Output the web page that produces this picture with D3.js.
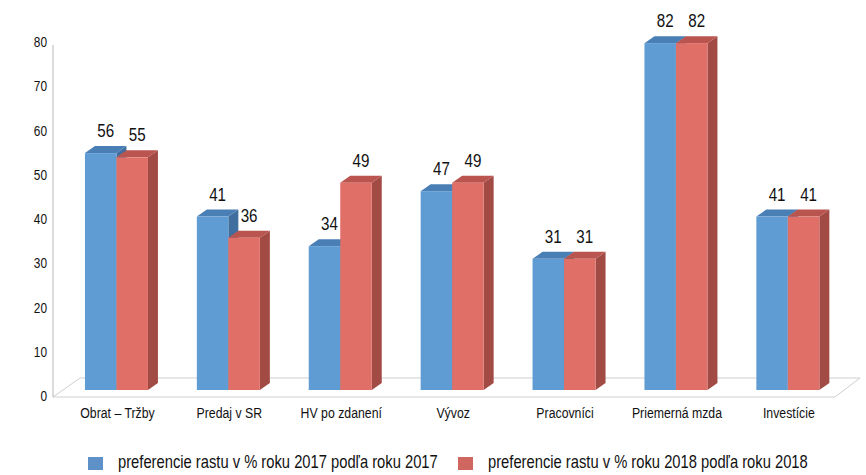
<!DOCTYPE html>
<html>
<head>
<meta charset="utf-8">
<script src="https://cdn.jsdelivr.net/npm/d3@7"></script>
<style>
  body { margin: 0; background: #fff; }
  text { font-family: "Liberation Sans", Arial, sans-serif; fill: #111; }
</style>
</head>
<body>
<div id="chart"></div>
<script>
// data
var categories = ["Obrat \u2013 Tr\u017eby", "Predaj v SR", "HV po zdanen\u00ed", "V\u00fdvoz", "Pracovn\u00edci", "Priemern\u00e1 mzda", "Invest\u00edcie"];
var values2017 = [56, 41, 34, 47, 31, 82, 41];
var values2018 = [55, 36, 49, 49, 31, 82, 41];
var seriesNames = ["preferencie rastu v % roku 2017 pod\u013ea roku 2017", "preferencie rastu v % roku 2018 pod\u013ea roku 2018"];
var yTicks = [0, 10, 20, 30, 40, 50, 60, 70, 80];

var width = 866, height = 475;
var depth = {dx: 10, dy: -7};
var squeeze = 0.82;   // no condensed font here, so narrow the text a bit

var svg = d3.select("#chart").append("svg")
    .attr("width", width)
    .attr("height", height);

// colours: front, top, side
var palette = [
    {front: "#5e9cd3", top: "#4a7fb6", side: "#3f6e9f", legend: "#5f91c9"},
    {front: "#e06f67", top: "#b9544e", side: "#a24b45", legend: "#cf6660"}
];

var data = categories.map(function (c, i) {
    return {cat: c, vals: [values2017[i], values2018[i]]};
});

// places a condensed text at x,y
function narrowText(sel, x, y, size, anchor, str) {
    return sel.append("text")
        .attr("transform", "translate(" + x + "," + y + ") scale(" + squeeze + ",1)")
        .attr("text-anchor", anchor)
        .style("font-size", size + "px")
        .text(str);
}

// x scales
var x0 = d3.scaleBand()
    .domain(categories)
    .range([60.5, 843.8])
    .paddingInner(0.437)
    .paddingOuter(0.2185);

var x1 = d3.scaleBand()
    .domain([0, 1])
    .range([0, x0.bandwidth()]);

// front plane of the bars and the back wall for the axis
var yBar = d3.scaleLinear().domain([0, 80]).range([390, 390 - 80 * 4.23]);
var yAxis = d3.scaleLinear().domain([0, 80]).range([396, 42]);

// floor
svg.append("path")
    .attr("d", "M53,397 L835,397 L860,378 L80,378 Z")
    .attr("stroke", "#cfcfcf")
    .attr("fill", "none");

// axis
var axisG = svg.append("g").attr("transform", "translate(53,0)");
axisG.call(d3.axisLeft(yAxis).tickValues(yTicks).tickSize(0).tickPadding(6));
axisG.select(".domain").attr("stroke", "#b8b8b8").attr("d", "M0,45V397");
axisG.selectAll("text")
    .attr("x", -6 / squeeze)
    .attr("transform", "scale(" + squeeze + ",1)")
    .style("font-size", "14.5px")
    .style("font-family", "'Liberation Sans', Arial, sans-serif")
    .attr("fill", "#111");

// bars
var groups = svg.selectAll(".cat")
    .data(data)
    .enter().append("g")
    .attr("class", "cat")
    .attr("transform", function (d) { return "translate(" + x0(d.cat) + ",0)"; });

groups.each(function (d) {
    var g = d3.select(this);
    d.vals.forEach(function (v, s) {
        var x = x1(s), w = x1.bandwidth();
        var yt = yBar(v), yb = yBar(0);
        var c = palette[s];
        // side face
        g.append("path")
            .attr("d", "M" + (x + w) + "," + yt + " L" + (x + w + depth.dx) + "," + (yt + depth.dy) +
                " L" + (x + w + depth.dx) + "," + (yb + depth.dy) + " L" + (x + w) + "," + yb + "Z")
            .attr("fill", c.side);
        // top face
        g.append("path")
            .attr("d", "M" + x + "," + yt + " L" + (x + depth.dx) + "," + (yt + depth.dy) +
                " L" + (x + w + depth.dx) + "," + (yt + depth.dy) + " L" + (x + w) + "," + yt + "Z")
            .attr("fill", c.top);
        // front face
        g.append("rect")
            .attr("x", x)
            .attr("y", yt)
            .attr("width", w)
            .attr("height", yb - yt)
            .attr("fill", c.front);
        // value label
        narrowText(g, x + w / 2 + 5, yt - 16, 18.5, "middle", v);
    });
});

// category labels
categories.forEach(function (c) {
    narrowText(svg, x0(c) + x0.bandwidth() / 2 + 1, 418, 15, "middle", c);
});

// legend
var legendX = [88, 458];
seriesNames.forEach(function (name, i) {
    svg.append("rect")
        .attr("x", legendX[i])
        .attr("y", 457)
        .attr("width", 15)
        .attr("height", 13)
        .attr("fill", palette[i].legend);
    narrowText(svg, legendX[i] + 30, 468, 18, "start", name);
});
</script>
</body>
</html>
